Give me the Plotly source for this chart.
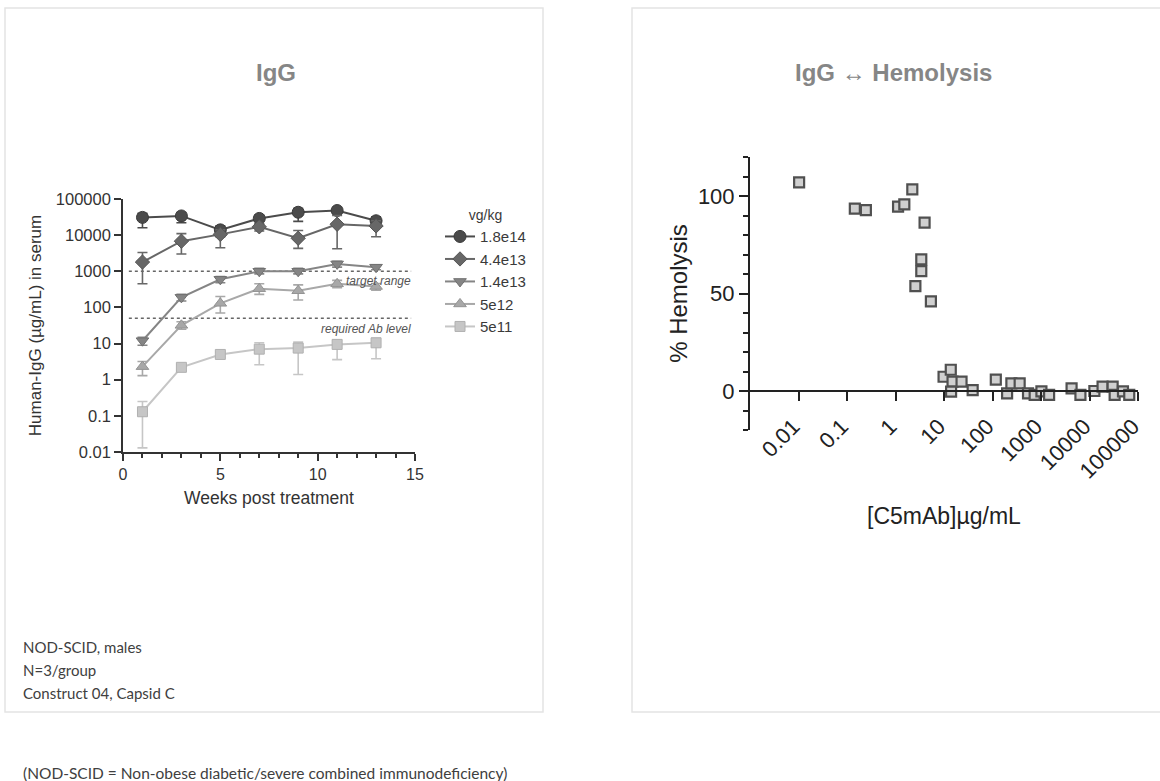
import plotly.graph_objects as go

W, H = 1160, 781

# ---------------- data ----------------
weeks = [1, 3, 5, 7, 9, 11, 13]
doses = ["1.8e14", "4.4e13", "1.4e13", "5e12", "5e11"]
igg_mean = {
    "1.8e14": [31000, 34000, 14000, 29000, 43000, 48000, 25000],
    "4.4e13": [1800, 6800, 10500, 17000, 8200, 20000, 18000],
    "1.4e13": [12, 190, 600, 1000, 1000, 1600, 1300],
    "5e12":   [2.3, 32, 130, 330, 290, 450, 380],
    "5e11":   [0.13, 2.2, 5.0, 7.0, 7.5, 9.5, 10.5],
}
igg_low = {
    "1.8e14": [16000, 22000, 9000, 20000, 24000, 40000, 17000],
    "4.4e13": [450, 3000, 4500, 13000, 4300, 4200, 9000],
    "1.4e13": [9, 150, 480, 850, 850, 1300, 1100],
    "5e12":   [1.3, 25, 70, 230, 160, 350, 300],
    "5e11":   [0.013, 1.8, 4.2, 2.6, 1.4, 3.6, 3.8],
}
igg_high = {
    "1.8e14": [40000, 42000, 18000, 36000, 55000, 55000, 32000],
    "4.4e13": [3300, 11000, 14000, 21000, 13500, 35000, 25000],
    "1.4e13": [15, 230, 720, 1200, 1200, 1900, 1500],
    "5e12":   [3.2, 40, 200, 450, 420, 560, 460],
    "5e11":   [0.25, 2.6, 5.8, 10.5, 11, 12.5, 14],
}
target_range = 1000
required_ab = 50
ref_x = [0.3, 14.8]

left_xticks = [0, 5, 10, 15]
left_yticks = [0.01, 0.1, 1, 10, 100, 1000, 10000, 100000]
left_yticktext = ["0.01", "0.1", "1", "10", "100", "1000", "10000", "100000"]

c5mab = [0.0103, 0.145, 0.245, 1.13, 1.52, 2.22, 3.98, 3.4, 3.4, 2.57, 5.37,
         9.8, 13.8, 15, 14, 23, 39, 117, 200, 245, 363, 540, 740, 1020, 1470,
         4270, 6500, 12600, 18600, 30000, 33000, 49000, 66000]
hemolysis = [107, 93.5, 92.8, 94.6, 95.7, 103.4, 86.3, 67.5, 61.5, 53.8, 46.0,
             7.3, 10.9, 4.8, -0.3, 4.8, 0.5, 5.8, -1.2, 3.9, 3.9, -1.2, -2, -0.2, -2,
             1.3, -2, 0, 2.2, 2.2, -2, -0.2, -2]
right_xticks = [0.01, 0.1, 1, 10, 100, 1000, 10000, 100000]
right_xticktext = ["0.01", "0.1", "1", "10", "100", "1000", "10000", "100000"]
right_yticks = [0, 50, 100]

# ---------------- styling ----------------
colors = {"1.8e14": "#4b4b4b", "4.4e13": "#676767", "1.4e13": "#858585",
          "5e12": "#a8a8a8", "5e11": "#c6c6c6"}
edge = {"1.8e14": "#3a3a3a", "4.4e13": "#555555", "1.4e13": "#707070",
        "5e12": "#939393", "5e11": "#b0b0b0"}
symbols = {"1.8e14": "circle", "4.4e13": "diamond", "1.4e13": "triangle-down",
           "5e12": "triangle-up", "5e11": "square"}
sizes = {"1.8e14": 12, "4.4e13": 11, "1.4e13": 11, "5e12": 11, "5e11": 10}

FONT = "Liberation Sans, Arial, sans-serif"
NOTE_FONT = "Lato, Open Sans, sans-serif"
AX = "#333333"
RAX = "#222222"


def px(x):
    return x / W


def py(y):
    return 1 - y / H


fig = go.Figure()

# reference lines (left)
for lvl in (target_range, required_ab):
    fig.add_trace(go.Scatter(x=ref_x, y=[lvl, lvl], mode="lines",
                             line=dict(color="#666666", width=1.6, dash="dot"),
                             showlegend=False, hoverinfo="skip",
                             xaxis="x", yaxis="y"))

for d in doses:
    m = igg_mean[d]
    lo = [a - b for a, b in zip(m, igg_low[d])]
    hi = [b - a for a, b in zip(m, igg_high[d])]
    fig.add_trace(go.Scatter(
        x=weeks, y=m, mode="lines+markers", name=d,
        line=dict(color=colors[d], width=2),
        marker=dict(symbol=symbols[d], size=sizes[d], color=colors[d],
                    line=dict(color=edge[d], width=1)),
        error_y=dict(type="data", symmetric=False, array=hi, arrayminus=lo,
                     color=colors[d], thickness=1.6, width=5),
        xaxis="x", yaxis="y"))

# right scatter
fig.add_trace(go.Scatter(
    x=c5mab, y=hemolysis, mode="markers", showlegend=False,
    marker=dict(symbol="square", size=10, color="#d0d0d0",
                line=dict(color="#505050", width=2.2)),
    xaxis="x2", yaxis="y2"))

# geometry
l_x0, l_x1 = px(123), px(415)
l_y0, l_y1 = py(452), py(199)
r_x0, r_x1 = px(750), px(1138)
r_y0, r_y1 = py(430), py(157)
r_yrange = [-20, 120]
zero_pos = r_y0 + (0 - r_yrange[0]) / (r_yrange[1] - r_yrange[0]) * (r_y1 - r_y0)

fig.update_layout(
    width=W, height=H,
    margin=dict(l=0, r=0, t=0, b=0, pad=0, autoexpand=False),
    paper_bgcolor="white", plot_bgcolor="white",
    font=dict(family=FONT, color=AX),
    showlegend=True,
    legend=dict(x=px(440), y=py(202), xanchor="left", yanchor="top",
                bgcolor="rgba(0,0,0,0)",
                font=dict(size=15, color="#3a3a3a", family=FONT),
                title=dict(text="vg/kg", side="top center",
                           font=dict(size=14, color="#3a3a3a")),
                itemwidth=30, tracegroupgap=0),
    xaxis=dict(domain=[l_x0, l_x1], range=[0, 15], anchor="y", automargin=False,
               tickvals=left_xticks, ticks="outside", ticklen=7, tickwidth=1.5,
               tickcolor=AX, minor=dict(dtick=1, ticks="outside", ticklen=4,
                                        tickwidth=1.5, tickcolor=AX),
               showline=True, linecolor=AX, linewidth=1.6,
               showgrid=False, zeroline=False,
               tickfont=dict(size=16, color=AX),
               title=dict(text="Weeks post treatment", standoff=10,
                          font=dict(size=17.5, color=AX))),
    yaxis=dict(domain=[l_y0, l_y1], type="log", range=[-2, 5], anchor="x",
               automargin=False,
               tickvals=left_yticks, ticktext=left_yticktext,
               ticks="outside", ticklen=7, tickwidth=1.5, tickcolor=AX,
               showline=True, linecolor=AX, linewidth=1.6,
               showgrid=False, zeroline=False,
               tickfont=dict(size=16.5, color=AX),
               title=dict(text="Human-IgG (µg/mL) in serum", standoff=10,
                          font=dict(size=17, color=AX))),
    xaxis2=dict(domain=[r_x0, r_x1], type="log", range=[-3, 5], automargin=False,
                anchor="free", position=zero_pos,
                tickvals=right_xticks, ticktext=right_xticktext,
                tickangle=-45, ticks="outside", ticklen=9, tickwidth=2,
                tickcolor=RAX, ticklabelstandoff=4, ticklabelshift=-5,
                showline=True, linecolor=RAX, linewidth=2,
                showgrid=False, zeroline=False,
                tickfont=dict(size=22, color=RAX)),
    yaxis2=dict(domain=[r_y0, r_y1], range=r_yrange, anchor="x2", automargin=False,
                tickvals=right_yticks, ticks="outside", ticklen=9, tickwidth=2,
                tickcolor=RAX,
                minor=dict(dtick=10, ticks="outside", ticklen=5, tickwidth=2,
                           tickcolor=RAX),
                showline=True, linecolor=RAX, linewidth=2,
                showgrid=False, zeroline=False,
                tickfont=dict(size=22, color=RAX),
                title=dict(text="% Hemolysis", standoff=3,
                           font=dict(size=24, color=RAX))),
)

# cards
for x0, x1 in ((5, 543), (632, 1175)):
    fig.add_shape(type="rect", xref="paper", yref="paper",
                  x0=px(x0), x1=px(x1), y0=py(712), y1=py(8),
                  line=dict(color="#e4e4e4", width=1.5), fillcolor="rgba(0,0,0,0)",
                  layer="below")

ann = []
ann.append(dict(text="<b>IgG</b>", x=px(276), y=py(72), xref="paper", yref="paper",
                xanchor="center", yanchor="middle", showarrow=False,
                font=dict(size=24, color="#868686", family=FONT)))
ann.append(dict(text="<b>IgG ↔ Hemolysis</b>", x=px(893), y=py(73), xref="paper",
                yref="paper", xanchor="center", yanchor="middle", showarrow=False,
                font=dict(size=24, color="#868686", family=FONT)))
ann.append(dict(text="<i>target range</i>", x=14.9, y=3, xref="x", yref="y",
                xanchor="right", yanchor="top", yshift=-1, showarrow=False,
                font=dict(size=12, color="#555555", family=FONT)))
ann.append(dict(text="<i>required Ab level</i>", x=14.9, y=1.699, xref="x", yref="y",
                xanchor="right", yanchor="top", yshift=-2, showarrow=False,
                font=dict(size=12, color="#555555", family=FONT)))
ann.append(dict(text="[C5mAb]µg/mL", x=(r_x0 + r_x1) / 2, y=py(516), xref="paper",
                yref="paper", xanchor="center", yanchor="middle", showarrow=False,
                font=dict(size=23, color=RAX, family=FONT)))
for i, t in enumerate(["NOD-SCID, males", "N=3/group", "Construct 04, Capsid C"]):
    ann.append(dict(text=t, x=px(21), y=py(647 + 23 * i), xref="paper", yref="paper",
                    xanchor="left", yanchor="middle", showarrow=False,
                    font=dict(size=15, color="#404040", family=NOTE_FONT)))
ann.append(dict(text="(NOD-SCID = Non-obese diabetic/severe combined immunodeficiency)",
                x=px(21), y=py(773), xref="paper", yref="paper",
                xanchor="left", yanchor="middle", showarrow=False,
                font=dict(size=15.5, color="#404040", family=NOTE_FONT)))
fig.update_layout(annotations=ann)

fig.write_html("out.html")
